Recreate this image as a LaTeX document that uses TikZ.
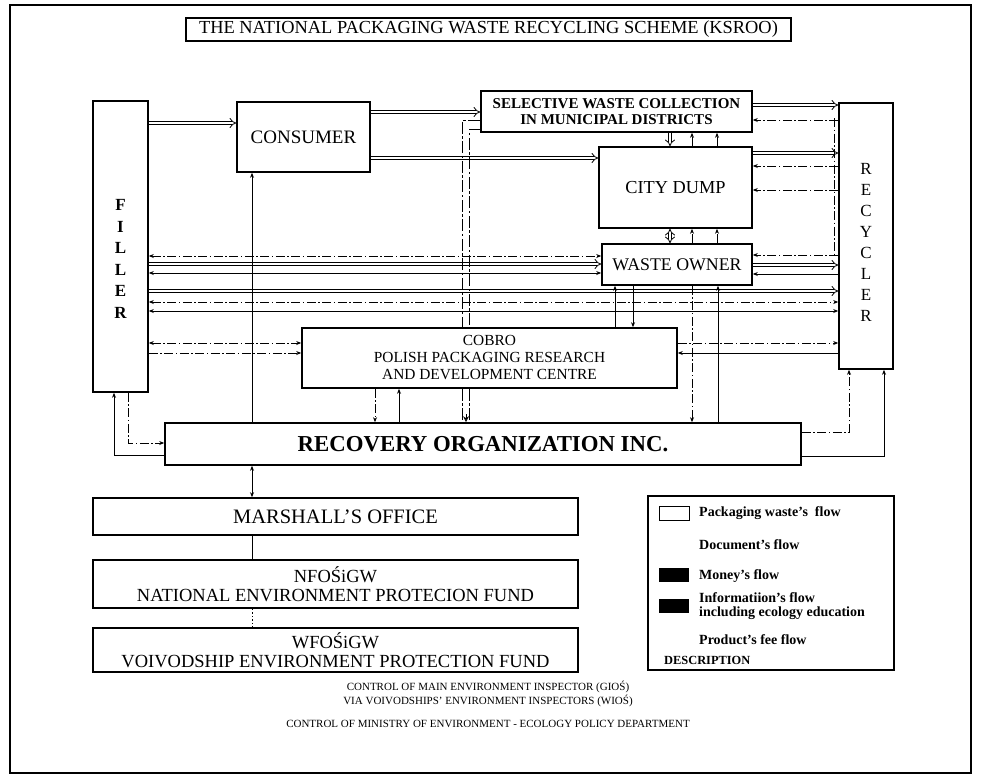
\documentclass[tikz,border=0pt]{standalone}
\usepackage{fontspec}
\setmainfont{Liberation Serif}
\usetikzlibrary{arrows.meta}
\begin{document}
\begin{tikzpicture}[x=1pt,y=-1pt,
  box/.style={draw, line width=1.6pt, fill=white, inner sep=0pt, align=center},
  wflow/.style={double, double distance=2.6pt, line width=0.8pt, -{Implies}},
  wflowb/.style={double, double distance=2.6pt, line width=0.8pt, {Implies}-{Implies}},
  fee/.style={line width=0.9pt, dash pattern=on 12pt off 2.5pt on 2.5pt off 2.5pt},
  tip/.style={-{Stealth[length=5pt,width=4pt]}},
  tipb/.style={{Stealth[length=5pt,width=4pt]}-{Stealth[length=5pt,width=4pt]}},
  sline/.style={line width=0.9pt},
  dline/.style={line width=0.8pt, dash pattern=on 9pt off 2.5pt on 1.5pt off 2.5pt},
  pline/.style={line width=0.8pt, dash pattern=on 1.5pt off 2pt},
  fs/.style={font=\fontsize{#1}{#1}\selectfont},
  legtext/.style={anchor=west, inner sep=0pt, align=left, font=\fontsize{14}{14}\selectfont\bfseries},
  ctext/.style={inner sep=0pt, font=\fontsize{11}{12}\selectfont}
]
\useasboundingbox (0,0) rectangle (982,780);
\draw[line width=1.2pt] (10,5) rectangle (971,773);

% boxes
\node[box, minimum width=605pt, minimum height=23pt, fs=18.4] (title) at (488.5,29.5) {THE NATIONAL PACKAGING WASTE RECYCLING SCHEME (KSROO)};
\node[box, minimum width=55pt, minimum height=291pt] (filler) at (120.5,246.5) {};
\node[inner sep=0pt, align=center, font=\fontsize{17}{21.6}\selectfont\bfseries] (fillertext) at (120.5,259) {F\\I\\L\\L\\E\\R};
\node[box, minimum width=133pt, minimum height=70pt, fs=19] (consumer) at (303.5,137) {CONSUMER};
\node[box, minimum width=271pt, minimum height=41pt, font=\fontsize{15}{16}\selectfont\bfseries] (selective) at (616.5,111.5) {SELECTIVE WASTE COLLECTION\\IN MUNICIPAL DISTRICTS};
\node[box, minimum width=153pt, minimum height=81pt, fs=18.3] (citydump) at (675.5,187.5) {CITY DUMP};
\node[box, minimum width=150pt, minimum height=41pt, fs=17.8] (wasteowner) at (677,264.5) {WASTE OWNER};
\node[box, minimum width=54pt, minimum height=266pt] (recycler) at (866,236) {};
\node[inner sep=0pt, align=center, font=\fontsize{17}{21}\selectfont] (recyclertext) at (866,242) {R\\E\\C\\Y\\C\\L\\E\\R};
\node[box, minimum width=375pt, minimum height=60pt, font=\fontsize{15.4}{17}\selectfont] (cobro) at (489.5,358) {COBRO\\POLISH PACKAGING RESEARCH\\AND DEVELOPMENT CENTRE};
\node[box, minimum width=636pt, minimum height=42pt, font=\fontsize{22.8}{23}\selectfont\bfseries] (recovery) at (483,444) {RECOVERY ORGANIZATION INC.};
\node[box, minimum width=485pt, minimum height=37pt, fs=20.5] (marshall) at (335.5,516.5) {MARSHALL’S OFFICE};
\node[box, minimum width=485pt, minimum height=48pt, font=\fontsize{18.5}{19}\selectfont] (nfos) at (335.5,584) {NFOŚiGW\\NATIONAL ENVIRONMENT PROTECION FUND};
\node[box, minimum width=485pt, minimum height=44pt, font=\fontsize{18.5}{19}\selectfont] (wfos) at (335.5,650) {WFOŚiGW\\VOIVODSHIP ENVIRONMENT PROTECTION FUND};

% legend
\node[box, minimum width=246pt, minimum height=174pt] (legend) at (771,583) {};
\node[draw, line width=1pt, minimum width=30pt, minimum height=14pt, inner sep=0pt] (lwaste) at (674,513) {};
\node[fill=black, minimum width=30pt, minimum height=14pt, inner sep=0pt] (lmoney) at (674,575) {};
\node[fill=black, minimum width=30pt, minimum height=14pt, inner sep=0pt] (linfo) at (674,606) {};
\node[legtext] (t1) at (699,513) {Packaging waste's~ flow};
\node[legtext] (t2) at (699,545) {Document's flow};
\node[legtext] (t3) at (699,576) {Money's flow};
\node[legtext, font=\fontsize{14}{13.5}\selectfont\bfseries] (t4) at (699,606) {Informatiion's flow\\including ecology education};
\node[legtext] (t5) at (699,640) {Product's fee flow};
\node[legtext, font=\fontsize{12.4}{13}\selectfont\bfseries] (t6) at (664,660) {DESCRIPTION};

% bottom texts
\node[ctext] (c1) at (488,687) {CONTROL OF MAIN ENVIRONMENT INSPECTOR (GIOŚ)};
\node[ctext] (c2) at (488,701) {VIA VOIVODSHIPS' ENVIRONMENT INSPECTORS (WIOŚ)};
\node[ctext] (c3) at (488,724) {CONTROL OF MINISTRY OF ENVIRONMENT - ECOLOGY POLICY DEPARTMENT};

% packaging waste flows (double)
\draw[wflow] (filler.east |- 0,123) -- (consumer.west |- 0,123);
\draw[wflow] (consumer.east |- 0,112) -- (selective.west |- 0,112);
\draw[wflow] (consumer.east |- 0,158) -- (citydump.west |- 0,158);
\draw[wflow] (selective.east |- 0,105) -- (recycler.west |- 0,105);
\draw[wflow] (citydump.east |- 0,153) -- (recycler.west |- 0,153);
\draw[wflow] (wasteowner.east |- 0,265) -- (recycler.west |- 0,265);
\draw[wflow] (filler.east |- 0,264) -- (wasteowner.west |- 0,264);
\draw[wflow] (filler.east |- 0,291) -- (recycler.west |- 0,291);
\draw[wflow] (selective.south -| 670,0) -- (citydump.north -| 670,0);
\draw[wflowb] (citydump.south -| 670,0) -- (wasteowner.north -| 670,0);

% recycler side bus
\draw[dline] (recycler.west |- 0,118) ++(-4,0) -- ++(0,137);
\draw[dline,tip] (recycler.west |- 0,120) -- (selective.east |- 0,120);
\draw[dline,tip] (recycler.west |- 0,166) -- (citydump.east |- 0,166);
\draw[dline,tip] (recycler.west |- 0,190) -- (citydump.east |- 0,190);
\draw[dline,tip] (recycler.west |- 0,255) -- (wasteowner.east |- 0,255);
\draw[sline,tip] (recycler.west |- 0,274) -- (wasteowner.east |- 0,274);

% filler horizontals
\draw[dline,tipb] (filler.east |- 0,256) -- (wasteowner.west |- 0,256);
\draw[sline,tipb] (filler.east |- 0,273) -- (wasteowner.west |- 0,273);
\draw[dline,tipb] (filler.east |- 0,302) -- (recycler.west |- 0,302);
\draw[sline,tipb] (filler.east |- 0,311) -- (recycler.west |- 0,311);
\draw[dline,tipb] (filler.east |- 0,343) -- (cobro.west |- 0,343);
\draw[dline,tip] (filler.east |- 0,353) -- (cobro.west |- 0,353);
\draw[dline,tip] (cobro.east |- 0,343) -- (recycler.west |- 0,343);
\draw[sline,tip] (recycler.west |- 0,353) -- (cobro.east |- 0,353);

% short verticals
\draw[dline,tip] (citydump.north -| 692,0) -- (selective.south -| 692,0);
\draw[dline,tip] (citydump.north -| 717,0) -- (selective.south -| 717,0);
\draw[dline,tip] (wasteowner.north -| 692,0) -- (citydump.south -| 692,0);
\draw[dline,tip] (wasteowner.north -| 717,0) -- (citydump.south -| 717,0);

% waste owner down
\draw[sline,tip] (cobro.north -| 615,0) -- (wasteowner.south -| 615,0);
\draw[sline,tip] (wasteowner.south -| 633,0) -- (cobro.north -| 633,0);
\draw[dline,tip] (wasteowner.south -| 692,0) -- (recovery.north -| 692,0);
\draw[sline,tip] (recovery.north -| 718,0) -- (wasteowner.south -| 718,0);

% product fee double line (selective -> recovery)
\draw[fee] (selective.west |- 0,120) -| (cobro.north -| 462.5,0);
\draw[fee] (selective.west |- 0,129) -| (cobro.north -| 469.5,0);
\draw[fee] (cobro.south -| 462.5,0) -- (recovery.north -| 462.5,0);
\draw[fee] (cobro.south -| 469.5,0) -- (recovery.north -| 469.5,0);
\draw[line width=0.9pt, -{Stealth[length=6pt,width=6pt,open]}] (recovery.north -| 466,0) ++(0,-8) -- (recovery.north -| 466,0);

% cobro - recovery
\draw[dline,tip] (cobro.south -| 375,0) -- (recovery.north -| 375,0);
\draw[sline,tip] (recovery.north -| 399,0) -- (cobro.south -| 399,0);

% consumer - recovery
\draw[sline,tip] (recovery.north -| 252,0) -- (consumer.south -| 252,0);

% filler - recovery
\draw[sline,tip] (recovery.west |- 0,455) -| (filler.south -| 114,0);
\draw[dline,tip] (filler.south -| 128,0) |- (recovery.west |- 0,443);

% recycler - recovery
\draw[dline,tip] (recovery.east |- 0,432) -| (recycler.south -| 849,0);
\draw[sline,tip] (recovery.east |- 0,456) -| (recycler.south -| 884,0);

% lower chain
\draw[sline,tipb] (recovery.south -| 252,0) -- (marshall.north -| 252,0);
\draw[sline] (marshall.south -| 252,0) -- (nfos.north -| 252,0);
\draw[pline] (nfos.south -| 252,0) -- (wfos.north -| 252,0);
\end{tikzpicture}
\end{document}
